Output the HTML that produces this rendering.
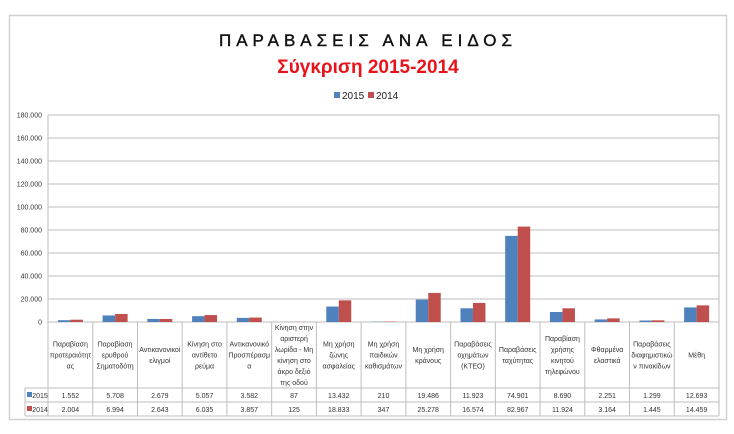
<!DOCTYPE html>
<html><head><meta charset="utf-8"><style>
body{margin:0;background:#fff;}
svg{display:block;font-family:"Liberation Sans",sans-serif;}
</style></head><body>
<svg width="734" height="434" viewBox="0 0 734 434" xmlns="http://www.w3.org/2000/svg">
<rect x="9.5" y="15.5" width="717" height="404" fill="#fff" stroke="#d0d0d0" stroke-width="1.5"/>
<text x="368" y="46" text-anchor="middle" font-size="17" letter-spacing="5" fill="#111" stroke="#111" stroke-width="0.4">ΠΑΡΑΒΑΣΕΙΣ ΑΝΑ  ΕΙΔΟΣ</text>
<text x="368" y="73" text-anchor="middle" font-size="19" font-weight="bold" fill="#e8141b">Σύγκριση 2015-2014</text>
<rect x="334" y="92" width="6" height="6" fill="#4f81bd"/><text x="342" y="99" font-size="10" fill="#222">2015</text>
<rect x="368" y="92" width="6" height="6" fill="#c0504d"/><text x="376" y="99" font-size="10" fill="#222">2014</text>
<g id="grid" stroke="#bdbdbd" stroke-width="1"></g>
<g id="yl" font-size="7" fill="#333" text-anchor="end"></g>
<g id="bars"></g>
<g id="tbl" stroke="#bdbdbd" stroke-width="1" fill="none"></g>
<g id="tx" font-size="7" fill="#333" text-anchor="middle"></g>
</svg>
<script>
const NS="http://www.w3.org/2000/svg";
function el(p,t,a,txt){const e=document.createElementNS(NS,t);for(const k in a)e.setAttribute(k,a[k]);if(txt!=null)e.textContent=txt;document.getElementById(p).appendChild(e);return e;}
const L=48,R=719,Y0=322,Yt=115,cw=(R-L)/15;
for(let i=0;i<=9;i++){const y=Y0-i*(Y0-Yt)/9;el('grid','line',{x1:L,x2:R,y1:y,y2:y});el('yl','text',{x:42,y:y+2.5},i==0?'0':(i*20)+'.000');}
el('grid','line',{x1:L,x2:L,y1:Yt,y2:Y0});
const cats=[["Παραβίαση","προτεραιότητ","ας"],["Παραβίαση","ερυθρού","Σηματοδότη"],["Αντικανονικοί","ελιγμοί"],["Κίνηση στο","αντίθετο","ρεύμα"],["Αντικανονικό","Προσπέρασμ","α"],["Κίνηση στην","αριστερή","λωρίδα - Μη","κίνηση στο","άκρο δεξιό","της οδού"],["Μη χρήση","ζώνης","ασφαλείας"],["Μη χρήση","παιδικών","καθισμάτων"],["Μη χρήση","κράνους"],["Παραβάσεις","οχημάτων","(ΚΤΕΟ)"],["Παραβάσεις","ταχύτητας"],["Παραβίαση","χρήσης","κινητού","τηλεφώνου"],["Φθαρμένα","ελαστικά"],["Παραβάσεις","διαφημιστικώ","ν πινακίδων"],["Μέθη"]];
const a=[1552,5708,2679,5057,3582,87,13432,210,19486,11923,74901,8690,2251,1299,12693];
const b=[2004,6994,2643,6035,3857,125,18833,347,25278,16574,82967,11924,3164,1445,14459];
const f=v=>v>=1000?Math.floor(v/1000)+'.'+String(v%1000).padStart(3,'0'):String(v);
const sc=(Y0-Yt)/180000;
const r1=388,r2=402,r3=416;
for(let i=0;i<15;i++){const x=L+i*cw,c=x+cw/2;
 el('bars','rect',{x:c-12.5,y:Y0-a[i]*sc,width:12.5,height:a[i]*sc,fill:'#4f81bd'});
 el('bars','rect',{x:c,y:Y0-b[i]*sc,width:12.5,height:b[i]*sc,fill:'#c0504d'});
 const ls=cats[i],n=ls.length,st=(Y0+r1)/2-(n-1)*5.5+2.5;
 ls.forEach((s,j)=>el('tx','text',{x:c,y:st+j*11},s));
 el('tx','text',{x:c,y:r1+10},f(a[i]));el('tx','text',{x:c,y:r2+10},f(b[i]));
}
for(let i=0;i<=15;i++){const x=L+i*cw;el('tbl','line',{x1:x,x2:x,y1:Y0,y2:r3});}
el('tbl','line',{x1:25,x2:25,y1:r1,y2:r3});
[r1,r2,r3].forEach(y=>el('tbl','line',{x1:25,x2:R,y1:y,y2:y}));
el('tbl','line',{x1:R,x2:R,y1:Yt,y2:r3});
el('bars','rect',{x:27,y:r1+4,width:5,height:5,fill:'#4f81bd'});
el('bars','rect',{x:27,y:r2+4,width:5,height:5,fill:'#c0504d'});
el('tx','text',{x:40,y:r1+10},'2015');el('tx','text',{x:40,y:r2+10},'2014');
</script>
</body></html>
